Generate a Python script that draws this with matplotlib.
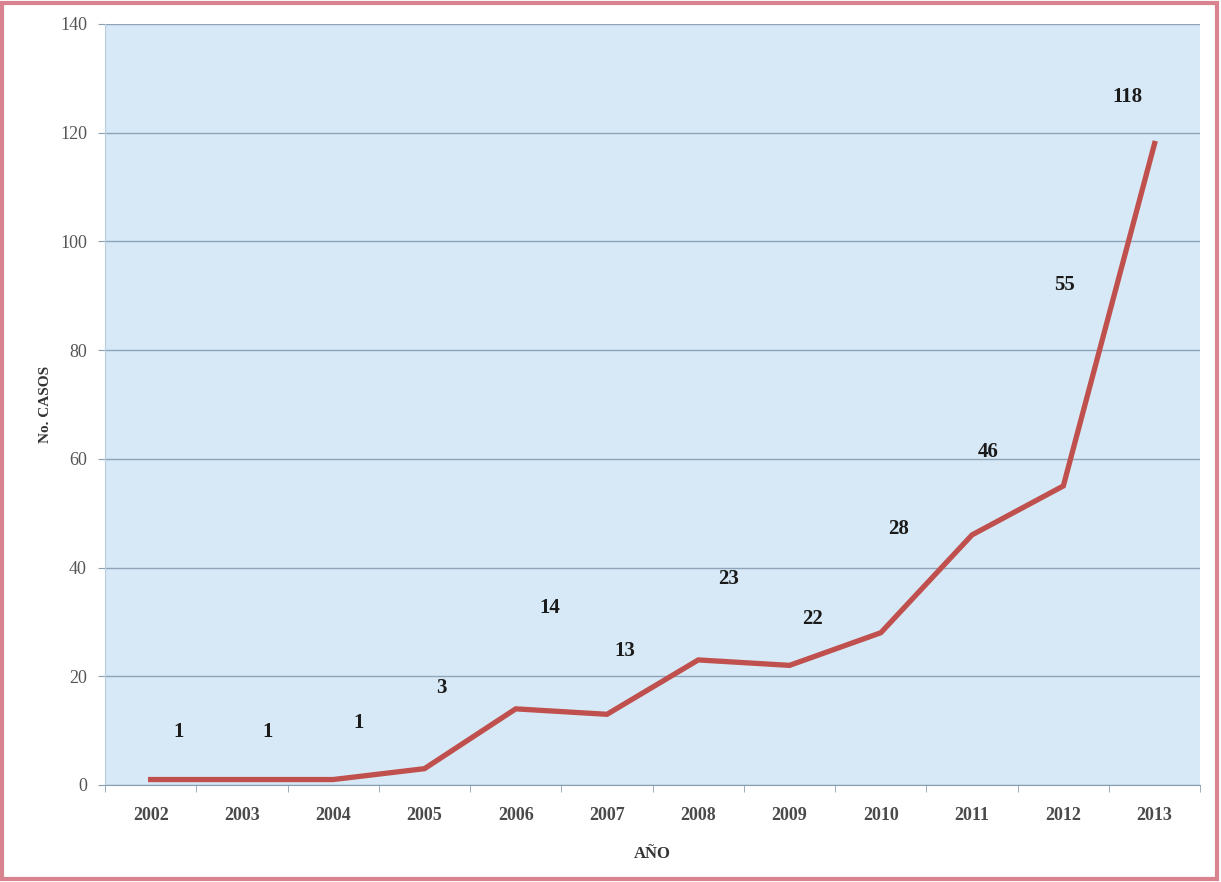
import matplotlib
matplotlib.use('Agg')
import matplotlib.pyplot as plt
from matplotlib.patches import Rectangle

years = ['2002', '2003', '2004', '2005', '2006', '2007',
         '2008', '2009', '2010', '2011', '2012', '2013']
cases = [1, 1, 1, 3, 14, 13, 23, 22, 28, 46, 55, 118]
# label positions as they sit in the picture (category offset, value)
label_dx = [0.31, 0.28, 0.28, 0.19, 0.37, 0.19, 0.33, 0.25, 0.19, 0.18, 0.01, -0.30]
label_y = [9.8, 9.8, 11.4, 17.8, 32.6, 24.6, 37.9, 30.5, 47.1, 61.3, 92, 126.6]

plt.rcParams['font.family'] = ['Liberation Serif', 'DejaVu Serif']

fig = plt.figure(figsize=(12.21, 8.82), dpi=100)
ax = fig.add_axes([0.086, 0.110, 0.897, 0.863])
ax.set_facecolor('#d7e9f6')

x = list(range(len(years)))
ax.plot(x, cases, color='#c0504d', linewidth=3.8, solid_joinstyle='miter', zorder=3)

for i, v in enumerate(cases):
    ax.text(i + label_dx[i], label_y[i], str(v), ha='center', va='center',
            fontsize=15, fontweight='bold', color='#1a1a1a', zorder=4)

ax.set_xlim(-0.48, len(years) - 0.5)
ax.set_ylim(0, 140)
ax.set_yticks(range(0, 141, 20))
ax.set_xticks(x)
ax.set_xticklabels(years)
ax.set_xticks([i + 0.5 for i in range(-1, len(years))], minor=True)
ax.tick_params(axis='x', which='major', length=0, pad=16, labelsize=13, colors='#4a4a4a')
ax.tick_params(axis='x', which='minor', length=5, color='#8aa0b0')
ax.tick_params(axis='y', length=5, color='#8aa0b0', labelsize=13, colors='#555555', pad=8)
for lab in ax.get_xticklabels():
    lab.set_fontweight('bold')

ax.grid(axis='y', color='#8fa4b8', linewidth=1, zorder=1)
ax.set_axisbelow(True)
for side in ['top', 'right']:
    ax.spines[side].set_visible(False)
ax.spines['left'].set_color('#b8ccdc')
ax.spines['bottom'].set_color('#8aa0b0')

ax.set_xlabel('AÑO', fontsize=12, fontweight='bold', color='#333333', labelpad=16)
ax.set_ylabel('No. CASOS', fontsize=11, fontweight='bold', color='#333333', labelpad=6)

fig.patches.append(Rectangle((0.002, 0.003), 0.995, 0.994, transform=fig.transFigure,
                             fill=False, edgecolor='#d8838f', linewidth=3))

plt.savefig('out.png', dpi=100)
